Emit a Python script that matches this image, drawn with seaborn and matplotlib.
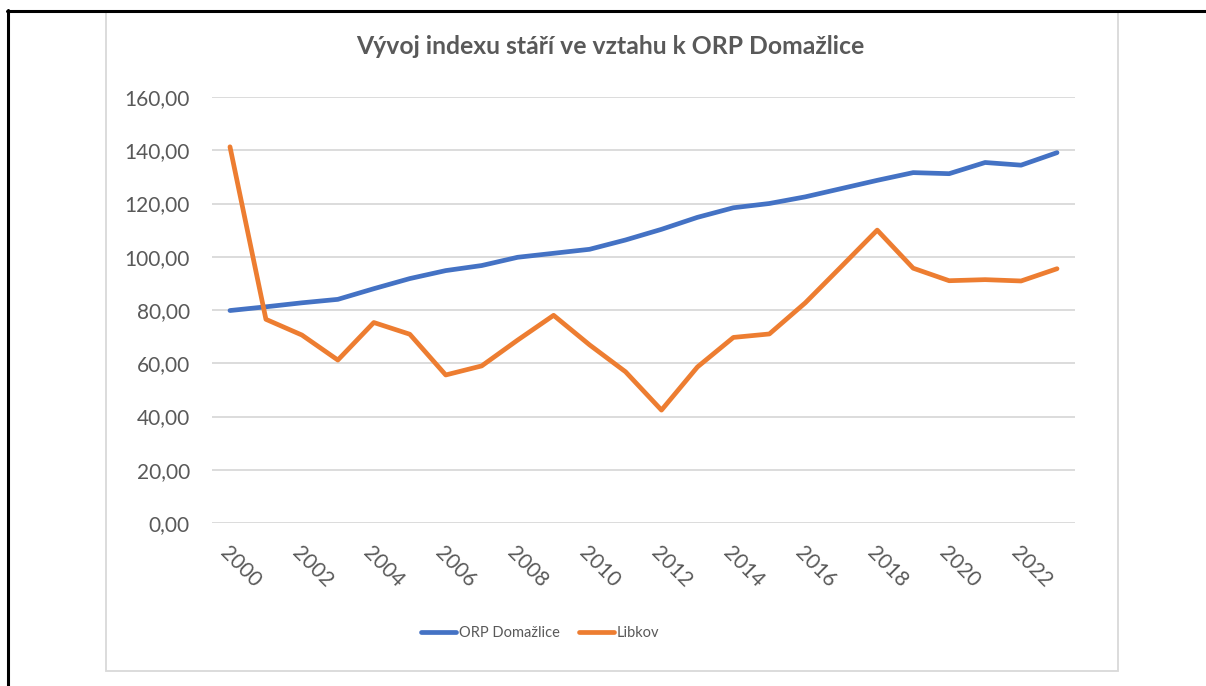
import matplotlib
matplotlib.use("Agg")
import matplotlib.pyplot as plt
import seaborn as sns
import pandas as pd
from matplotlib.lines import Line2D
from matplotlib.patches import Rectangle
from matplotlib.ticker import FuncFormatter

# Data
years = list(range(2000, 2024))
orp_domazlice = [79.8, 81.2, 82.7, 84.0, 88.0, 91.8, 94.8, 96.7, 99.8, 101.3, 102.8, 106.3,
                 110.3, 114.8, 118.4, 120.0, 122.5, 125.6, 128.7, 131.6, 131.2, 135.4, 134.4, 139.1]
libkov = [141.3, 76.5, 70.6, 61.2, 75.3, 70.9, 55.6, 59.0, 68.7, 78.0, 66.9, 56.8,
          42.4, 58.6, 69.7, 71.0, 82.7, 96.3, 110.0, 95.7, 91.0, 91.4, 90.9, 95.5]
series_names = ["ORP Domažlice", "Libkov"]
colors = ["#4472C4", "#ED7D31"]
title = "Vývoj indexu stáří ve vztahu k ORP Domažlice"
y_ticks = [0, 20, 40, 60, 80, 100, 120, 140, 160]
x_ticks = years[::2]

TEXT = "#595959"
GRID = "#D9D9D9"

sns.set_theme(style="white")
plt.rcParams["font.family"] = ["Lato", "DejaVu Sans"]

df = pd.DataFrame({
    "year": years * 2,
    "value": orp_domazlice + libkov,
    "series": [series_names[0]] * len(years) + [series_names[1]] * len(years),
})

W, H = 1206, 686
fig = plt.figure(figsize=(W / 100, H / 100), dpi=100)
ax = fig.add_axes([212 / W, 1 - 523 / H, (1075 - 212) / W, (523 - 97) / H])

sns.lineplot(data=df, x="year", y="value", hue="series", palette=colors,
             linewidth=3.4, ax=ax, legend=False, solid_capstyle="round")

ax.set_xlim(1999.5, 2023.5)
ax.set_ylim(0, 160)
ax.set_yticks(y_ticks)
ax.yaxis.set_major_formatter(FuncFormatter(lambda v, p: f"{v:.2f}".replace(".", ",")))
ax.set_xticks(x_ticks)
ax.set_xticklabels([str(y) for y in x_ticks], rotation=-45, ha="left", va="top",
                   rotation_mode="anchor")
ax.tick_params(axis="both", length=0, labelsize=15, labelcolor=TEXT)
ax.tick_params(axis="y", pad=16)
ax.tick_params(axis="x", pad=14)
ax.grid(axis="y", color=GRID, linewidth=1.3)
ax.set_axisbelow(True)
for s in ax.spines.values():
    s.set_visible(False)
ax.set_xlabel("")
ax.set_ylabel("")

# title
fig.text(610 / W, 1 - 47 / H, title, ha="center", va="center",
         fontsize=17.8, fontweight="bold", color=TEXT)

# legend
handles = [Line2D([], [], color=c, linewidth=3.4, solid_capstyle="round") for c in colors]
fig.legend(handles, series_names, loc="center", bbox_to_anchor=(540 / W, 1 - 633 / H),
           ncol=2, frameon=False, fontsize=10.5, labelcolor=TEXT, handlelength=2.4,
           handletextpad=0.2, columnspacing=1.3)

# chart frame and outer border
fig.add_artist(Rectangle((106 / W, 1 - 671 / H), (1118 - 106) / W, (671 - 11) / H,
                         transform=fig.transFigure, fill=False, edgecolor=GRID, linewidth=1.3))
fig.add_artist(Line2D([7 / W, 1], [1 - 10.5 / H, 1 - 10.5 / H], transform=fig.transFigure,
                      color="black", linewidth=2.2))
fig.add_artist(Line2D([7.5 / W, 7.5 / W], [0, 1 - 10 / H], transform=fig.transFigure,
                      color="black", linewidth=2.2))

fig.savefig("out.png", dpi=100, facecolor="white")
